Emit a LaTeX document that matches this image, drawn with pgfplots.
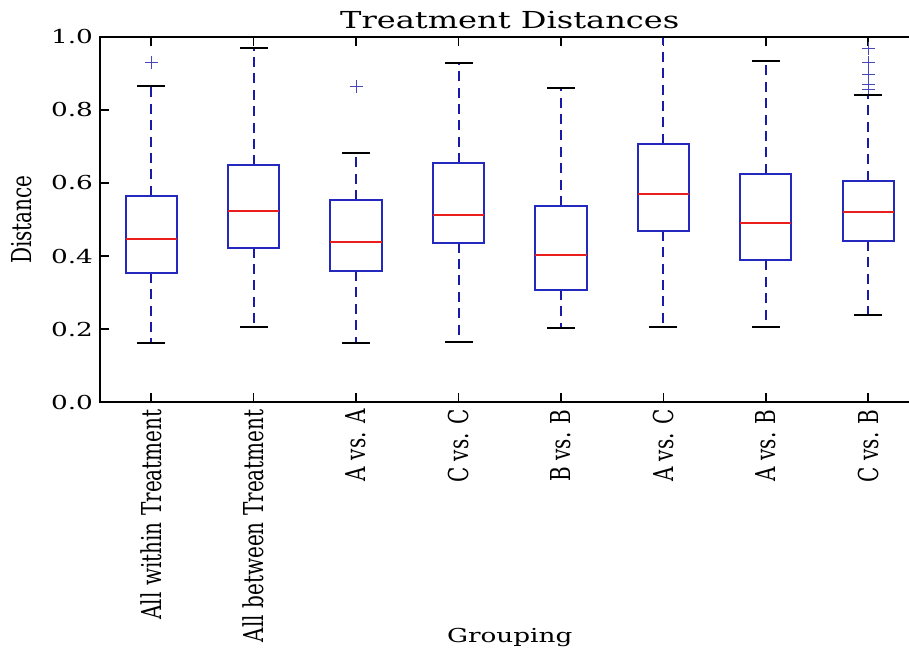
\documentclass[border=0pt]{standalone}
\usepackage{fontspec}
\usepackage{pgfplots}
\pgfplotsset{compat=1.18}
\usepgfplotslibrary{statistics}
\setmainfont{DejaVu Serif}[FakeStretch=1.37]
\newfontfamily\rotfont{DejaVu Serif}[FakeStretch=0.73]
\definecolor{boxblue}{RGB}{35,40,190}
\definecolor{whiskblue}{RGB}{25,25,170}
\definecolor{medred}{RGB}{235,30,30}
\begin{document}
\begin{tikzpicture}
\begin{axis}[width=409.75pt, height=182.8pt, scale only axis,
  xmin=0.5, xmax=8.5, ymin=0, ymax=1,
  xtick={1,2,3,4,5,6,7,8},
  xticklabels={All within Treatment,All between Treatment,A vs. A,C vs. C,B vs. B,A vs. C,A vs. B,C vs. B},
  ytick={0,0.2,0.4,0.6,0.8,1},
  /pgf/number format/fixed, /pgf/number format/fixed zerofill,
  /pgf/number format/precision=1, /pgf/number format/assume math mode=true,
  y tick label style={font=\fontsize{9.6}{11}\selectfont},
  x tick label style={font=\rotfont\fontsize{13.7}{16}\selectfont, rotate=90, anchor=east},
  tick align=inside, major tick length=4.5pt,
  tick style={black, line width=0.8pt},
  axis line style={black, line width=0.9pt},
  every axis title shift=0pt,
  title={Treatment Distances},
  title style={font=\fontsize{11.7}{14}\selectfont, at={(axis description cs:0.5,1)}, anchor=base, yshift=4.2pt},
  xlabel={Grouping},
  xlabel style={font=\fontsize{9.6}{11}\selectfont, at={(axis description cs:0.5,0)}, anchor=base, yshift=-119.85pt},
  ylabel={Distance},
  ylabel style={font=\rotfont\fontsize{13.7}{16}\selectfont, at={(axis description cs:-0.0952,0.5)}, anchor=center},
  boxplot/draw direction=y,
  boxplot/every box/.style={draw=boxblue, line width=1pt},
  boxplot/every whisker/.style={draw=whiskblue, line width=1pt, dash pattern=on 5pt off 3.2pt},
  boxplot/every median/.style={draw=medred, line width=1pt},
  boxplot/box extend=0.5, boxplot/whisker extend=0]

\addplot[boxplot prepared={draw position=1, lower whisker=0.161, lower quartile=0.354, median=0.446, upper quartile=0.565, upper whisker=0.865},
  mark=+, mark size=3.25pt, mark options={whiskblue!80, solid, line width=0.5pt}] coordinates {(0,0.929)};
\addplot[boxplot prepared={draw position=2, lower whisker=0.206, lower quartile=0.423, median=0.524, upper quartile=0.648, upper whisker=0.968}] coordinates {};
\addplot[boxplot prepared={draw position=3, lower whisker=0.161, lower quartile=0.359, median=0.438, upper quartile=0.553, upper whisker=0.681},
  mark=+, mark size=3.25pt, mark options={whiskblue!80, solid, line width=0.5pt}] coordinates {(0,0.864)};
\addplot[boxplot prepared={draw position=4, lower whisker=0.165, lower quartile=0.437, median=0.511, upper quartile=0.654, upper whisker=0.929}] coordinates {};
\addplot[boxplot prepared={draw position=5, lower whisker=0.203, lower quartile=0.307, median=0.403, upper quartile=0.537, upper whisker=0.859}] coordinates {};
\addplot[boxplot prepared={draw position=6, lower whisker=0.206, lower quartile=0.469, median=0.570, upper quartile=0.707, upper whisker=1.0}] coordinates {};
\addplot[boxplot prepared={draw position=7, lower whisker=0.206, lower quartile=0.388, median=0.490, upper quartile=0.625, upper whisker=0.934}] coordinates {};
\addplot[boxplot prepared={draw position=8, lower whisker=0.238, lower quartile=0.442, median=0.521, upper quartile=0.606, upper whisker=0.840},
  mark=+, mark size=3.25pt, mark options={whiskblue!80, solid, line width=0.5pt}] coordinates {(0,0.968) (0,0.929) (0,0.897) (0,0.870) (0,0.856)};

% whisker caps
\addplot[only marks, mark=-, mark size=7pt, mark options={black, solid, line width=1pt}] coordinates {
  (1,0.865) (1,0.161) (2,0.968) (2,0.206) (3,0.681) (3,0.161) (4,0.929) (4,0.165)
  (5,0.859) (5,0.203) (6,1.0) (6,0.206) (7,0.934) (7,0.206) (8,0.840) (8,0.238)};
\end{axis}
\pgfresetboundingbox
\path[use as bounding box] (current axis.south west) ++(-50pt,-128.35pt) rectangle ++(454.5pt,329.5pt);
\end{tikzpicture}
\end{document}
